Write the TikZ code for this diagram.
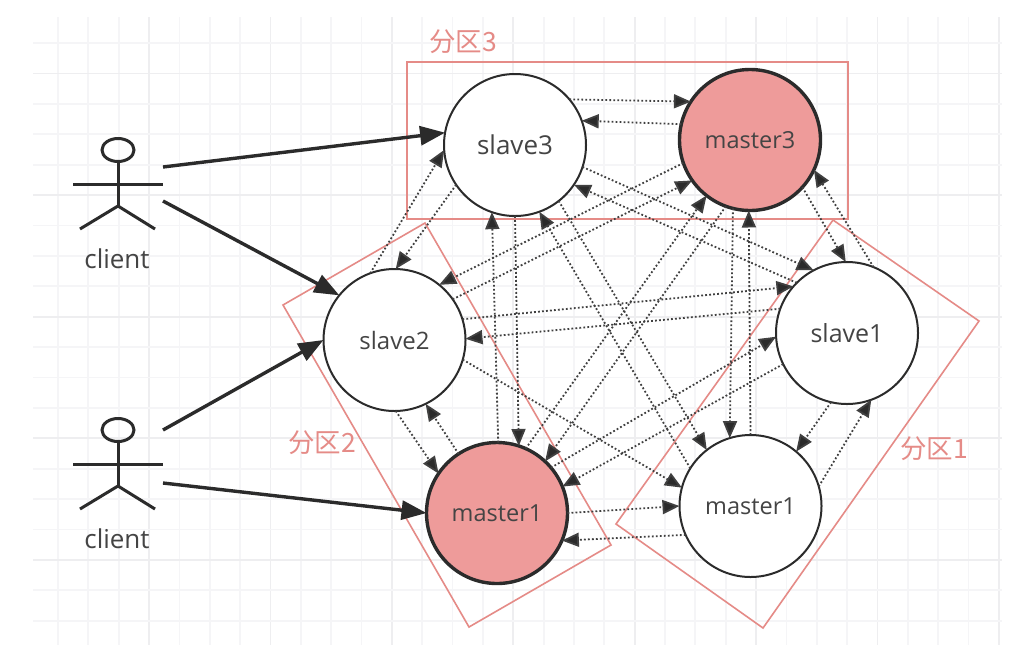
\documentclass[tikz,border=0pt]{standalone}
\usepackage{fontspec}
\setmainfont{Open Sans}
\newfontfamily\cjkfont{Noto Sans CJK SC}
\usetikzlibrary{arrows.meta,shapes.geometric}
\definecolor{gridc}{HTML}{F5F5F7}
\definecolor{gridd}{HTML}{EEEEF0}
\definecolor{partc}{HTML}{E58B87}
\definecolor{redfill}{HTML}{EE9B9A}
\definecolor{ink}{HTML}{2B2B2B}
\definecolor{txt}{HTML}{444444}
\tikzset{
  x=1pt,y=-1pt,
  circ/.style={circle,draw=ink,line width=2pt,fill=white,minimum size=142pt,inner sep=0pt,outer sep=0pt,text=txt},
  redcirc/.style={circ,fill=redfill,line width=3.4pt,minimum size=141pt},
  part/.style={draw=partc,line width=1.6pt},
  partlabel/.style={text=partc,font=\cjkfont\fontsize{26.5}{26.5}\selectfont,inner sep=0pt},
  sync/.style={draw=ink!90!white,line width=1.8pt,dash pattern=on 1.8pt off 2.2pt,-{Triangle[length=17pt,width=14pt,fill=ink]}},
  thick arrow/.style={draw=ink,line width=3.4pt,-{Triangle[length=25pt,width=19pt,fill=ink]},shorten >=0pt},
  stick/.style={draw=ink,line width=3pt},
  clientlabel/.style={text=txt,font=\fontsize{26}{26}\selectfont,inner sep=0pt},
}
\newcommand{\fsz}[1]{\fontsize{#1}{#1}\selectfont}
\begin{document}
\begin{tikzpicture}
\useasboundingbox (0,0) rectangle (1024,665);
\fill[white] (0,0) rectangle (1024,665);
% grid
\foreach \i in {0,...,31}{
  \pgfmathsetmacro{\gx}{58+30.35*\i}
  \pgfmathtruncatemacro{\gm}{mod(\i,4)}
  \ifnum\gm=3 \draw[gridd,line width=1.8pt] (\gx,17) -- (\gx,645);
  \else \draw[gridc,line width=1.8pt] (\gx,17) -- (\gx,645); \fi
}
\foreach \i in {0,...,19}{
  \pgfmathsetmacro{\gy}{43+30.4*\i}
  \pgfmathtruncatemacro{\gm}{mod(\i,4)}
  \ifnum\gm=1 \draw[gridd,line width=1.8pt] (33,\gy) -- (1002,\gy);
  \else \draw[gridc,line width=1.8pt] (33,\gy) -- (1002,\gy); \fi
}
% partitions
\coordinate (p3a) at (407,62); \coordinate (p3b) at (848,62); \coordinate (p3c) at (848,219); \coordinate (p3d) at (407,219);
\draw[part] (p3a) -- (p3b) -- (p3c) -- (p3d) -- cycle;
\coordinate (p2a) at (283,305); \coordinate (p2b) at (425,223); \coordinate (p2c) at (611,545); \coordinate (p2d) at (469,627);
\draw[part] (p2a) -- (p2b) -- (p2c) -- (p2d) -- cycle;
\coordinate (p1a) at (616,524); \coordinate (p1b) at (833,220); \coordinate (p1c) at (979,321); \coordinate (p1d) at (763,628);
\draw[part] (p1a) -- (p1b) -- (p1c) -- (p1d) -- cycle;
\node[partlabel] (l3) at (463,42) {分区3};
\node[partlabel] (l2) at (322,443) {分区2};
\node[partlabel] (l1) at (934,449) {分区1};
% servers
\node[circ,font=\fsz{26}] (s3) at (515,145) {slave3};
\node[redcirc,font=\fsz{23.5}] (m3) at (750,140) {master3};
\node[circ,font=\fsz{24}] (s2) at (394.5,340) {slave2};
\node[redcirc,font=\fsz{23.5}] (m1r) at (497,513) {master1};
\node[circ,font=\fsz{25}] (s1) at (847,333) {slave1};
\node[circ,font=\fsz{23.5}] (m1w) at (750.5,506) {master1};
% clients
\foreach \n/\dy in {a/0,b/280}{
  \node[draw=ink,line width=3pt,ellipse,minimum width=32pt,minimum height=23pt,inner sep=0pt,outer sep=0pt] (head\n) at (118,150+\dy) {};
  \coordinate (arml\n) at (73,184+\dy);
  \coordinate (armr\n) at (163,184+\dy);
  \coordinate (hip\n) at (118,206+\dy);
  \coordinate (legl\n) at (80,229+\dy);
  \coordinate (legr\n) at (155,229+\dy);
  \draw[stick] (head\n.south) -- (hip\n);
  \draw[stick] (arml\n) -- (armr\n);
  \draw[stick] (legl\n) -- (hip\n) -- (legr\n);
}
\node[clientlabel] (ca) at (117,259) {client};
\node[clientlabel] (cb) at (117,539) {client};
\coordinate (a1) at (163,167);
\coordinate (a2) at (163,201);
\coordinate (b1) at (163,430);
\coordinate (b2) at (163,483);
\draw[thick arrow] (a1) -- (s3.170);
\draw[thick arrow] (a2) -- (s2.141);
\draw[thick arrow] (b1) -- (s2.180);
\draw[thick arrow] (b2) -- (m1r.180);
% replication links
\foreach \p/\q in {
  s3.40/m3.147, m3.167/s3.20,
  s3.-18/s1.118, s1.135.5/s3.-34,
  s3.-52/m1w.128, m1w.148/s3.-70,
  s3.-146.5/s2.89, s2.110/s3.-176,
  s3.-90/m1r.72.5, m1r.89/s3.-109,
  m3.-161/s2.51, s2.35/m3.-145,
  m3.-110/m1r.47, m1r.66/m3.-128,
  m3.-104/m1w.107.5, m1w.90/m3.-91,
  m3.-42/s1.91, s1.68/m3.-25,
  s2.17/s1.139.6, s1.160/s2.1,
  s2.-16/m1w.165,
  m1r.40/s1.-177, s1.-154/m1r.22,
  m1r.0/m1w.180, m1w.-156/m1r.-23.5,
  s2.-89/m1r.146, m1r.123/s2.-64,
  s1.-103/m1w.50, m1w.16/s1.-70}{
  \draw[sync] (\p) -- (\q);
}
\end{tikzpicture}
\end{document}
